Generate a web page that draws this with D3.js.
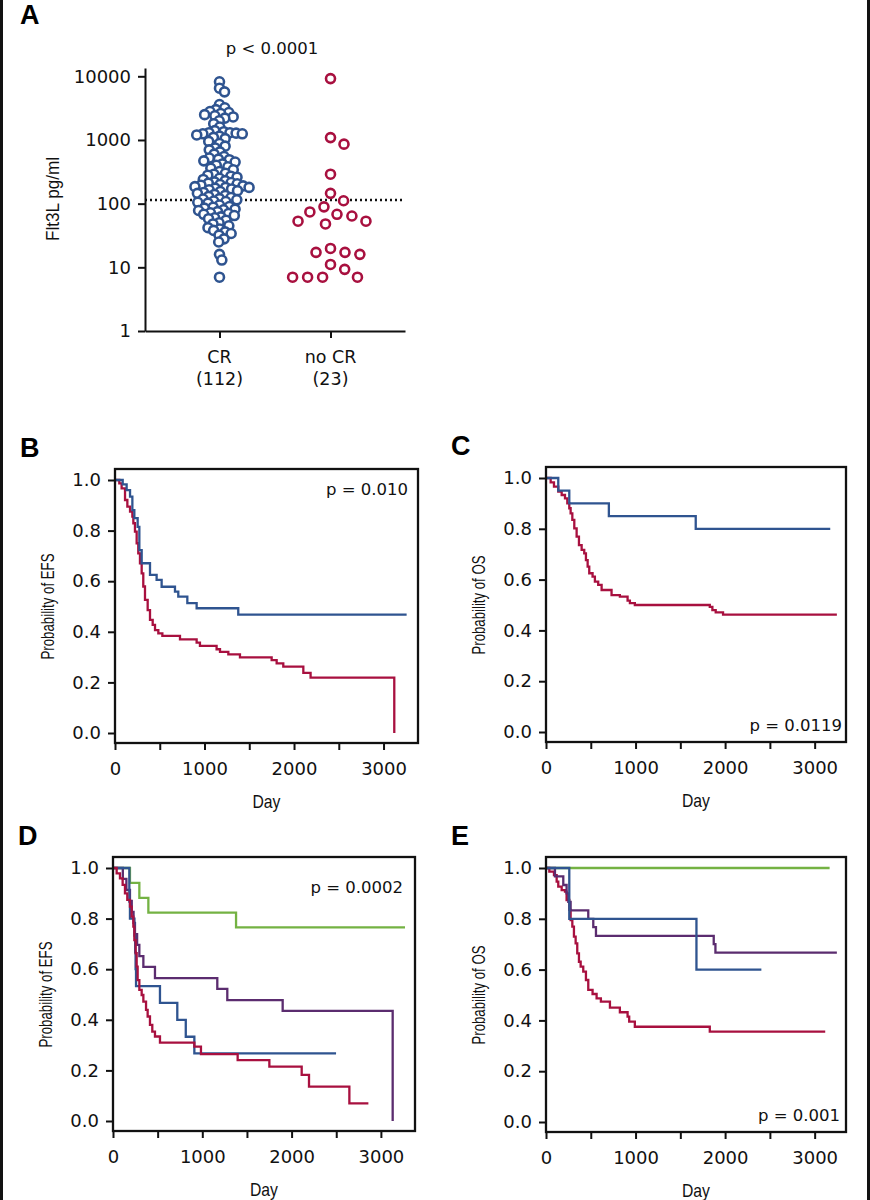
<!DOCTYPE html>
<html>
<head>
<meta charset="utf-8">
<script src="https://cdn.jsdelivr.net/npm/d3@7"></script>
<style>
  body { margin: 0; background: #fff; }
  .tick text { font-family: "DejaVu Sans", sans-serif; font-size: 18px; fill: #111; }
  .tick line { stroke: #111; stroke-width: 2; }
  .domain { stroke: #111; stroke-width: 2; }
  .title { font-family: "Liberation Sans", Arial, sans-serif; font-size: 19px; fill: #111; }
  .cat { font-family: "DejaVu Sans", sans-serif; font-size: 17.5px; fill: #111; }
  .pval { font-family: "DejaVu Sans", sans-serif; font-size: 16.5px; fill: #111; }
  .letter { font-family: "Liberation Sans", Arial, sans-serif; font-weight: bold; font-size: 27px; fill: #000; }
</style>
</head>
<body>
<div id="wrapper"></div>
<script>
// ---- panel A data (Flt3L pg/ml) ----
const groupLabels = ["CR", "no CR"];
const groupCounts = ["(112)", "(23)"];
const crValues = [
  8200, 6500, 5700,
  3600, 3200, 3000, 2800, 2700, 2600, 2500, 2400, 2300, 2200, 2000, 1800,
  1600, 1400, 1350, 1300, 1300, 1280, 1250, 1250, 1200, 1150, 1100, 1050,
  950, 880, 800, 750, 700, 650, 600, 550, 520, 500, 490, 470, 450, 420, 400,
  380, 360, 340, 320, 300, 290, 280, 270, 260, 250, 240, 230, 220, 215, 210,
  205, 200, 195, 190, 185, 180, 180, 175, 170, 165, 160, 155, 150, 145, 140,
  135, 130, 125, 120, 118, 115, 110, 108, 105, 102,
  95, 90, 88, 85, 82, 80, 78, 75, 72, 70, 68, 65, 62, 60, 58, 55, 50, 48,
  45, 42, 40, 38, 36, 34, 32, 28, 25, 16, 13, 7
];
const noCrValues = [9200, 1090, 860, 290, 145, 111, 89, 74, 68, 64, 53, 53, 48,
  19.8, 17.2, 17.2, 16, 11.1, 9.3, 7, 7, 7, 7];
const cutoff = 114;
const logTicks = [1, 10, 100, 1000, 10000];

// ---- Kaplan-Meier curves: [day, probability] ----
const efsBlue = [[0,1],[86,0.983],[130,0.96],[168,0.934],[194,0.881],[216,0.849],[253,0.815],
  [272,0.723],[298,0.671],[391,0.625],[465,0.605],[521,0.578],[670,0.559],[707,0.539],
  [808,0.513],[912,0.493],[1377,0.468],[3258,0.468]];
const efsRed = [[0,1],[48,0.987],[74,0.967],[112,0.921],[138,0.895],[168,0.875],[194,0.855],
  [205,0.829],[223,0.796],[242,0.75],[260,0.71],[279,0.671],[298,0.631],[316,0.579],
  [335,0.526],[365,0.486],[391,0.447],[421,0.427],[447,0.407],[484,0.394],[529,0.384],
  [726,0.37],[912,0.357],[949,0.344],[1135,0.331],[1173,0.321],[1266,0.311],[1396,0.299],
  [1750,0.288],[1806,0.275],[1880,0.262],[2104,0.238],[2185,0.219],[3120,0]];

const osBlue = [[0,1],[137,0.95],[260,0.9],[702,0.85],[1672,0.8],[3174,0.8]];
const osRed = [[0,1],[52,0.983],[89,0.966],[137,0.946],[175,0.933],[212,0.92],[238,0.9],
  [260,0.881],[275,0.861],[294,0.835],[316,0.802],[342,0.769],[368,0.736],[398,0.717],
  [427,0.703],[446,0.677],[465,0.651],[483,0.625],[520,0.612],[546,0.592],[583,0.579],
  [621,0.559],[732,0.539],[825,0.533],[911,0.517],[937,0.507],[992,0.5],[1829,0.493],
  [1858,0.48],[1895,0.471],[1977,0.462],[3248,0.462]];

const efs4Green = [[0,1],[190,0.941],[295,0.882],[396,0.824],[1378,0.765],[3270,0.765]];
const efs4Purple = [[0,1],[110,0.957],[150,0.913],[190,0.87],[210,0.826],[230,0.783],
  [246,0.739],[270,0.696],[295,0.652],[340,0.609],[470,0.565],[1168,0.522],[1280,0.478],
  [1900,0.435],[3132,0]];
const efs4Blue = [[0,1],[183,0.867],[190,0.8],[240,0.733],[248,0.667],[253,0.6],[258,0.533],
  [526,0.467],[720,0.4],[815,0.333],[911,0.267],[2498,0.267]];
const efs4Red = [[0,1],[41,0.979],[78,0.959],[108,0.933],[134,0.9],[160,0.874],[190,0.847],
  [209,0.808],[228,0.768],[239,0.715],[254,0.663],[265,0.61],[276,0.557],[295,0.518],
  [321,0.498],[340,0.472],[370,0.439],[388,0.413],[414,0.38],[440,0.353],[470,0.334],
  [526,0.31],[911,0.294],[985,0.264],[1396,0.241],[1751,0.215],[2113,0.182],[2195,0.136],
  [2647,0.07],[2860,0.07]];

const os4Green = [[0,1],[3167,1]];
const os4Blue = [[0,1],[260,0.8],[1680,0.6],[2405,0.6]];
const os4Purple = [[0,1],[100,0.967],[193,0.933],[230,0.9],[249,0.867],[275,0.833],
  [472,0.8],[528,0.767],[558,0.733],[1873,0.7],[1892,0.667],[3248,0.667]];
const os4Red = [[0,1],[37,0.986],[89,0.972],[119,0.946],[137,0.927],[175,0.913],[212,0.907],
  [230,0.874],[260,0.835],[275,0.795],[294,0.769],[312,0.73],[331,0.703],[349,0.664],
  [368,0.631],[387,0.612],[416,0.592],[446,0.559],[472,0.52],[520,0.504],[565,0.487],
  [613,0.474],[714,0.45],[825,0.432],[911,0.415],[929,0.395],[992,0.375],[1829,0.356],
  [3118,0.356]];

const probTicks = [0, 0.2, 0.4, 0.6, 0.8, 1.0];
const dayTicks = [0, 500, 1000, 1500, 2000, 2500, 3000];

const colors = { blue: "#2f5490", red: "#a8103f", green: "#74b243", purple: "#5b2c6f" };

const svg = d3.select("#wrapper").append("svg")
  .attr("width", 870)
  .attr("height", 1200)
  .style("display", "block");

// side rules of the figure
svg.append("rect").attr("x", 0).attr("y", 0).attr("width", 3).attr("height", 1200).attr("fill", "#111");
svg.append("rect").attr("x", 867).attr("y", 0).attr("width", 3).attr("height", 1200).attr("fill", "#111");

function letter(txt, x, y) {
  svg.append("text").attr("class", "letter").attr("x", x).attr("y", y).text(txt);
}

// ---------- Panel A ----------
letter("A", 20, 24);

const yA = d3.scaleLog().domain([1, 13500]).range([331, 68]);
const xA = d3.scalePoint().domain(groupLabels).range([145, 405]).padding(0.671);

svg.append("g")
  .attr("transform", "translate(145,0)")
  .call(d3.axisLeft(yA).tickValues(logTicks).tickFormat(d3.format("d")).tickSize(7).tickSizeOuter(0).tickPadding(7));

svg.append("g")
  .attr("transform", "translate(0,331)")
  .call(d3.axisBottom(xA).tickSize(7).tickSizeOuter(0).tickFormat(""));

groupLabels.forEach((g, i) => {
  svg.append("text").attr("class", "cat")
    .attr("x", xA(g)).attr("y", 363).attr("text-anchor", "middle").text(g);
  svg.append("text").attr("class", "cat")
    .attr("x", xA(g)).attr("y", 385).attr("text-anchor", "middle").text(groupCounts[i]);
});

svg.append("text").attr("class", "title")
  .attr("transform", "translate(59,199) rotate(-90)")
  .attr("text-anchor", "middle")
  .attr("textLength", 84).attr("lengthAdjust", "spacingAndGlyphs")
  .text("Flt3L pg/ml");

svg.append("text").attr("class", "pval")
  .attr("x", 272).attr("y", 54).attr("text-anchor", "middle")
  .text("p < 0.0001");

// simple beeswarm: place each point as close to the centre as the others allow
function swarm(values, cx, gap) {
  const placed = [];
  const pts = values.map(v => ({ v, y: yA(v) })).sort((a, b) => a.y - b.y);
  pts.forEach(p => {
    const near = placed.filter(q => Math.abs(q.y - p.y) < gap);
    const cands = [0];
    near.forEach(q => {
      const dx = Math.sqrt(gap * gap - (q.y - p.y) ** 2);
      cands.push(q.x + dx, q.x - dx);
    });
    cands.sort((a, b) => Math.abs(a) - Math.abs(b));
    p.x = cands.find(c => near.every(q => (q.x - c) ** 2 + (q.y - p.y) ** 2 >= gap * gap - 0.01));
    placed.push(p);
  });
  return placed.map(p => ({ v: p.v, y: p.y, x: cx + p.x }));
}

svg.append("line")
  .attr("x1", 145).attr("x2", 405)
  .attr("y1", yA(cutoff)).attr("y2", yA(cutoff))
  .attr("stroke", "#111").attr("stroke-width", 2.5)
  .attr("stroke-dasharray", "2,3");

svg.append("g").selectAll("circle")
  .data(swarm(crValues, xA("CR"), 6.2))
  .join("circle")
  .attr("cx", d => d.x).attr("cy", d => d.y).attr("r", 4.5)
  .attr("fill", "#fff").attr("stroke", colors.blue).attr("stroke-width", 2.6);

svg.append("g").selectAll("circle")
  .data(swarm(noCrValues, xA("no CR"), 15))
  .join("circle")
  .attr("cx", d => d.x).attr("cy", d => d.y).attr("r", 4.5)
  .attr("fill", "#fff").attr("stroke", colors.red).attr("stroke-width", 2.6);

// ---------- KM panels ----------
function kmPanel(cfg) {
  const x = d3.scaleLinear().domain([0, cfg.xMax]).range([cfg.left, cfg.right]);
  const y = d3.scaleLinear().domain([0, 1]).range([cfg.y0, cfg.y1]);
  const top = cfg.y1 - 11, bottom = cfg.y0 + 10;

  svg.append("g")
    .attr("transform", `translate(${cfg.left},0)`)
    .call(d3.axisLeft(y).tickValues(probTicks).tickFormat(d3.format(".1f")).tickSize(7).tickPadding(7))
    .call(g => g.select(".domain").remove());

  svg.append("g")
    .attr("transform", `translate(0,${bottom})`)
    .call(d3.axisBottom(x).tickValues(dayTicks)
      .tickFormat(d => d % 1000 === 0 ? d : "").tickSize(7).tickPadding(12))
    .call(g => g.select(".domain").remove());

  const line = d3.line()
    .x(d => x(d[0])).y(d => y(d[1]))
    .curve(d3.curveStepAfter);

  cfg.curves.forEach(c => {
    svg.append("path")
      .attr("d", line(c.data))
      .attr("fill", "none")
      .attr("stroke", c.color)
      .attr("stroke-width", 2.3);
  });

  svg.append("rect")
    .attr("x", cfg.left).attr("y", top)
    .attr("width", cfg.right - cfg.left).attr("height", bottom - top)
    .attr("fill", "none").attr("stroke", "#111").attr("stroke-width", 2.3);

  svg.append("text").attr("class", "title")
    .attr("transform", `translate(${cfg.left - 61},${(cfg.y0 + cfg.y1) / 2}) rotate(-90)`)
    .attr("text-anchor", "middle")
    .attr("textLength", cfg.yLen).attr("lengthAdjust", "spacingAndGlyphs")
    .text(cfg.yLabel);

  svg.append("text").attr("class", "title")
    .attr("x", (cfg.left + cfg.right) / 2).attr("y", bottom + 65)
    .attr("text-anchor", "middle")
    .attr("textLength", 28).attr("lengthAdjust", "spacingAndGlyphs")
    .text("Day");

  svg.append("text").attr("class", "pval")
    .attr("x", cfg.pX).attr("y", cfg.pY).attr("text-anchor", "end")
    .text(cfg.pText);

  letter(cfg.letter, cfg.left - 95, top - 12);
}

kmPanel({ letter: "B", left: 115, right: 418, xMax: 3385, y0: 733, y1: 480,
  yLabel: "Probability of EFS", yLen: 106, pText: "p = 0.010", pX: 408, pY: 495,
  curves: [{ data: efsRed, color: colors.red }, { data: efsBlue, color: colors.blue }] });

kmPanel({ letter: "C", left: 546, right: 846, xMax: 3350, y0: 732, y1: 478,
  yLabel: "Probability of OS", yLen: 99, pText: "p = 0.0119", pX: 842, pY: 731,
  curves: [{ data: osRed, color: colors.red }, { data: osBlue, color: colors.blue }] });

kmPanel({ letter: "D", left: 113, right: 415, xMax: 3382, y0: 1121, y1: 868,
  yLabel: "Probability of EFS", yLen: 106, pText: "p = 0.0002", pX: 403, pY: 893,
  curves: [{ data: efs4Green, color: colors.green }, { data: efs4Purple, color: colors.purple },
           { data: efs4Blue, color: colors.blue }, { data: efs4Red, color: colors.red }] });

kmPanel({ letter: "E", left: 546, right: 846, xMax: 3350, y0: 1122, y1: 868,
  yLabel: "Probability of OS", yLen: 99, pText: "p = 0.001", pX: 840, pY: 1121,
  curves: [{ data: os4Green, color: colors.green }, { data: os4Red, color: colors.red },
           { data: os4Purple, color: colors.purple }, { data: os4Blue, color: colors.blue }] });
</script>
</body>
</html>
